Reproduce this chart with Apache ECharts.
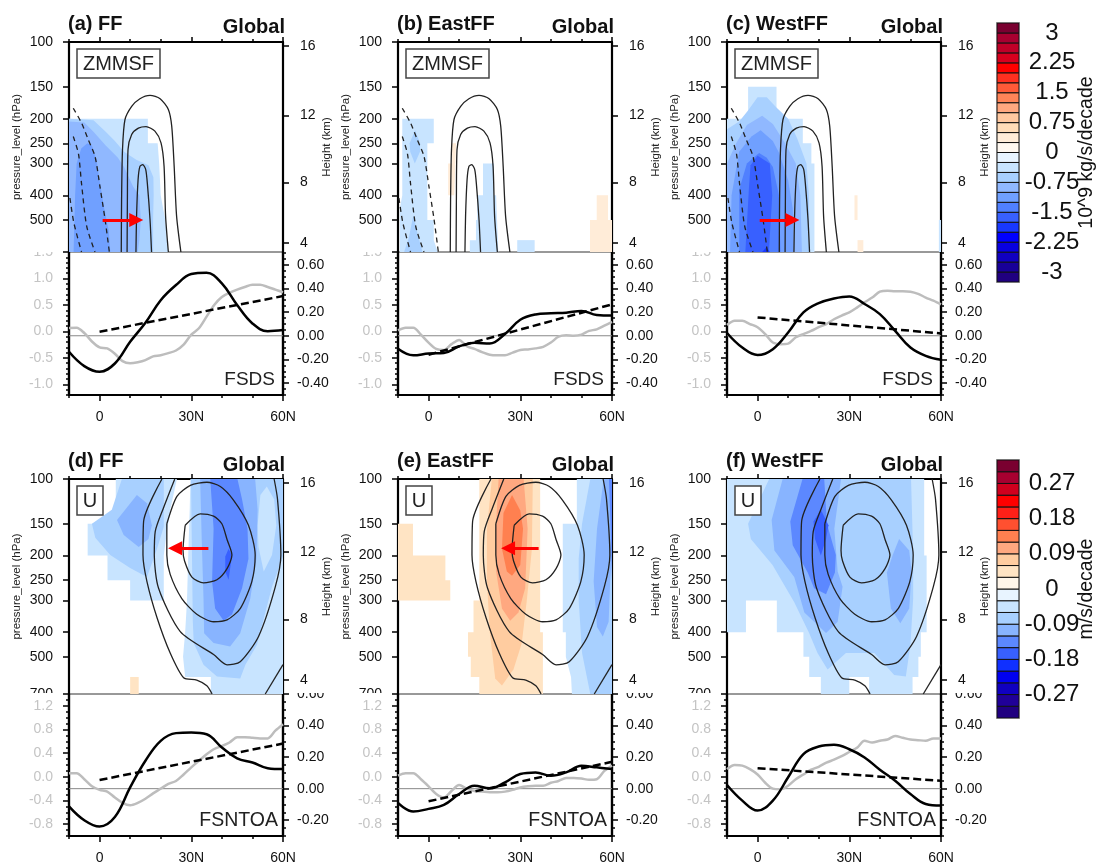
<!DOCTYPE html>
<html>
<head>
<meta charset="utf-8">
<title>ZMMSF and U trends</title>
<script src="https://cdn.jsdelivr.net/npm/echarts@6/dist/echarts.min.js"></script>
<style>
  html, body { margin: 0; padding: 0; background: #fff; }
  #chart { width: 1098px; height: 862px; }
</style>
</head>
<body>
<div id="chart"></div>
<script>
// tick labels
const pressureLevels = [100, 150, 200, 250, 300, 400, 500, 700]
const heightLevels = [16, 12, 8, 4]
const heightPressure = [103.7, 194, 356, 615]
const latMajor = [0, 30, 60]
const latMinor = [-10, 10, 20, 40, 50]

// colour bars, bottom to top
const msfColors = ['#200080', '#180098', '#1000c0', '#0800e0', '#0000ff', '#1838ff', '#3860ff', '#5080ff', '#70a0ff', '#90b8ff', '#a8d0ff', '#c8e4ff', '#e8f4ff',
  '#fff8f0', '#ffecd8', '#ffdcb8', '#ffc8a0', '#ffa880', '#ff8458', '#ff5a38', '#ff3020', '#ff0000', '#d8001e', '#c00028', '#a80030', '#7a0030']
const uColors = ['#200080', '#200098', '#1000c0', '#0000f0', '#1030ff', '#3860ff', '#5c88ff', '#88b4ff', '#a8d0ff', '#c8e4ff', '#e8f4ff',
  '#fff6ea', '#ffe4c4', '#ffcca0', '#ffa880', '#ff8050', '#ff5030', '#ff2018', '#ff0000', '#d0001e', '#a80030', '#7a0030']
const msfTicks = [-3, -2.25, -1.5, -0.75, 0, 0.75, 1.5, 2.25, 3]
const uTicks = [-0.27, -0.18, -0.09, 0, 0.09, 0.18, 0.27]

// climatology contours, [lat, hPa]
const msfPos1 = [[7.1,668],[7.2,416],[7.5,265],[8.3,202],[10.5,179],[13.2,167],[16.5,162],[19.8,167],[22.5,184],[23.6,214],[24.4,308],[25.2,484],[26.6,668]]
const msfPos2 = [[9,668],[9.1,416],[9.3,265],[10.5,231],[12.7,218],[15.2,215],[18.1,224],[20.1,249],[21.1,308],[21.6,484],[22.5,668]]
const msfPos3 = [[11.9,668],[12.1,484],[12.6,347],[13.2,308],[14.1,303],[15.1,317],[15.7,368],[16.5,498],[17,668]]
const msfNeg1 = [[-8.6,182],[-5.9,208],[-3.7,242],[-1.5,281],[0.1,368],[1.8,498],[3.2,668]]
const msfNeg2 = [[-8.6,235],[-6.9,275],[-5.9,360],[-4.2,530],[-1.5,668]]
const msfNeg3 = [[-9.7,410],[-8.4,514],[-5.9,668]]
const uJet1 = [[28,152],[32.9,137],[37.3,140],[40,150],[41.7,173],[43.3,199],[41.7,225],[38.4,249],[34,256],[30.2,243],[27.8,210],[27.3,191],[28,152]]
const uJet2 = [[22,150],[25.3,117],[29.7,106],[35.1,103],[39.5,107],[43.8,121],[48.7,152],[50.9,199],[49.8,253],[46,323],[41.7,358],[37.3,364],[31.8,340],[26.9,295],[23.1,237],[22,199],[22,150]]
const uJet3 = [[24.6,100],[20.9,130],[18.2,161],[17.9,199],[19.3,269],[26.4,398],[37.3,490],[41.7,538],[46,523],[52,416],[57.5,265],[59.3,199],[58.2,120],[57.1,100]]
const uJet4 = [[20.4,100],[14.4,147],[14.2,199],[15.5,253],[18.8,351],[23.1,483],[27.5,604],[31.8,617],[35.1,650],[36.8,700]]
const uCorner = [[54.2,700],[60,537]]

// filled trend regions, [bin value, [lat, hPa] ...], outer first
const fillA = [
  [-0.375, [[-10,200],[15.8,200],[15.8,250],[19,250],[19.5,300],[20,400],[21.5,500],[22,600],[22.5,668],[-10,668]]],
  [-0.625, [[-10,200],[-2,203],[2,225],[5,245],[8,270],[12,290],[16,305],[17.6,340],[17.7,400],[17.5,500],[17.5,668],[-10,668]]],
  [-0.875, [[-10,205],[-5,207],[-2,225],[2,255],[6,285],[8,310],[11,370],[13,400],[13.5,500],[13,600],[12.5,668],[-10,668]]],
  [-1.125, [[-8.5,668],[-8,400],[-7.5,300],[-6,262],[-4,250],[-2.5,255],[-1,290],[0,350],[1.5,450],[3,550],[3.5,668]]]
]
const fillB = [
  [-0.375, [[-8.6,200],[1.7,200],[1.7,250],[-0.4,250],[-0.4,500],[1.7,500],[1.7,600],[3,668],[-9.4,668],[-9.4,450],[-8.6,400]]],
  [-0.375, [[17.8,300],[21.4,300],[21.4,400],[22.1,400],[22.8,668],[13.5,668],[13.5,600],[15.5,600],[15.5,500],[15.9,500],[15.9,400],[17.8,400]]],
  [-0.375, [[29,600],[34.7,600],[34.7,668],[29,668]]],
  [-0.625, [[-4.4,222],[-2.8,250],[-2.8,270],[-4.5,300],[-6,270],[-6.2,250]]],
  [-0.625, [[-5,480],[-3.7,560],[-2,668],[-8,668],[-6.5,590]]],
  [0.375, [[7.7,250],[9,250],[8.4,400],[6.4,400],[6.4,300],[7.7,300]]],
  [0.375, [[55,400],[58.7,400],[58.7,500],[60,500],[60,668],[52.8,668],[52.8,500],[55,500]]]
]
const fillC = [
  [-0.375, [[-3.1,150],[6.2,150],[6.2,200],[14.8,200],[14.8,250],[17.6,250],[17.6,300],[18.6,300],[18.6,668],[-10,668],[-10,200],[-3.1,200]]],
  [-0.625, [[-10,220],[-6,205],[-3,185],[0,165],[3,165],[6,180],[10,200],[13,240],[16,300],[16.8,400],[17,668],[-10,668]]],
  [-0.875, [[-10,300],[-7,250],[-3.5,212],[1.5,195],[5,210],[9,250],[12.5,300],[14,400],[14.5,668],[-10,668]]],
  [-1.125, [[-9,668],[-8.5,400],[-6,270],[-2,235],[1,222],[5,245],[7,272],[10,350],[11.5,450],[11.8,668]]],
  [-1.375, [[-6,668],[-6,380],[-3.5,300],[0.5,273],[3,285],[5,310],[7,400],[7.5,668]]],
  [-1.625, [[0,280],[4,300],[4.8,400],[3.7,668],[-4,668],[-2.8,370],[-2.3,305]]],
  [-1.875, [[1.5,668],[2.9,640],[4,668]]],
  [0.375, [[31.7,400],[32.7,400],[32.7,500],[31.7,500]]],
  [0.375, [[32.7,600],[34.6,600],[34.6,668],[32.7,668]]],
  [-0.375, [[59.3,500],[60,500],[60,668],[59.3,668]]]
]
const fillD = [
  [-0.045, [[5.3,100],[25.3,100],[23.1,132],[21.5,179],[21,200],[21,300],[10,300],[10,250],[2.6,250],[2.6,200],[-3.9,200],[-3.9,150],[5.3,150]]],
  [-0.045, [[29.7,100],[60,100],[60,700],[36.4,700],[36.4,600],[28,600],[27.3,500],[28,400],[28.6,300],[29,200],[29.5,130]]],
  [-0.075, [[7.3,100],[4,132],[-2.5,150],[-1.4,170],[3.5,199],[10,224],[15.5,243],[18.8,188],[21,154],[21,100]]],
  [-0.105, [[5.7,145],[12.2,115.5],[15.5,124.6],[17.1,152],[16,172],[12.8,185],[7.9,166]]],
  [-0.075, [[29.9,100],[30.2,188],[30.5,362],[30.8,441],[34,537],[38.4,598],[46,608],[47.7,537],[51.5,448],[56.4,265],[60,202],[60,100]]],
  [-0.045, [[54.7,107],[52.6,115.5],[51.7,152],[52,185],[53.7,231],[56.4,199],[57.8,152],[57.1,120]]],
  [-0.105, [[32.9,100],[33.5,188],[34,295],[34.2,404],[37.3,441],[42.7,455],[46,404],[49.3,295],[51.3,206],[51.7,132],[50.9,100]]],
  [-0.135, [[36.2,100],[37.3,157],[36.8,253],[37.8,323],[40.6,361],[43.3,341],[46.6,269],[48.7,206],[48.4,157],[46.6,120],[45.1,100]]],
  [-0.165, [[42.2,188],[43.3,200],[42.2,249],[41.1,231],[41.1,202]]],
  [0.045, [[10,600],[12.8,600],[12.8,700],[10,700]]]
]
const fillE = [
  [0.045, [[-10,150],[-5.1,150],[-5.1,200],[5.5,200],[5.5,250],[7.1,250],[7.1,300],[-10,300]]],
  [0.045, [[16.6,100],[36.5,100],[36.5,400],[37.4,400],[37.4,700],[16.6,700],[16.6,600],[13.8,600],[13.8,500],[12.9,500],[12.9,400],[14.7,400],[14.7,300],[16.6,300]]],
  [0.075, [[20.7,100],[19.1,157],[19.1,253],[20,398],[21.8,608],[24,648],[27.8,559],[30.5,441],[32.2,295],[33.8,188],[34.1,100]]],
  [0.105, [[22.9,100],[22,157],[22.1,231],[24,323],[26.7,361],[29.4,335],[31.6,269],[32.4,157],[31.1,100]]],
  [0.135, [[27.3,115.5],[24.5,136],[24,188],[25.6,231],[27.3,240],[30,218],[30.9,157],[30,133]]],
  [-0.045, [[48.5,100],[60,100],[60,700],[46.9,700],[46.6,600],[44.9,500],[44.9,400],[43.9,400],[43.9,150],[48.5,150]]],
  [-0.075, [[52.9,100],[50.2,150],[49.1,206],[49.1,300],[50.2,483],[52.9,700],[60,700],[60,100]]],
  [-0.105, [[57.3,100],[55.1,157],[54,253],[55.1,382],[57,416],[58.9,364],[59.4,253],[60,200],[60,100]]],
  [-0.135, [[59,100],[60,100],[60,250],[59.6,160]]]
]
const fillF = [
  [-0.045, [[-10,100],[54.5,100],[54.5,200],[55.3,200],[55.3,400],[53.4,400],[53.4,500],[52.6,500],[52.6,600],[50.7,600],[50.7,700],[36.5,700],[36.5,600],[30,600],[30,700],[20.7,700],[20.7,600],[16.9,600],[16.9,500],[15,500],[15,400],[6.3,400],[6.3,300],[-3.8,300],[-3.8,400],[-10,400]]],
  [-0.075, [[3.8,100],[-3.1,150],[-2.2,172],[4.9,218],[12,305],[16.9,404],[19.6,483],[22.9,561],[28.9,483],[38.2,483],[44.7,589],[48.5,598],[50,448],[50.9,295],[50.9,199],[50.2,100]]],
  [-0.105, [[8.2,100],[4.6,145],[5.5,191],[12,243],[15.3,335],[22.4,403],[26.2,364],[27.8,265],[26.2,231],[25.1,157],[27.3,100]]],
  [-0.105, [[46.3,172],[44.2,199],[42.3,233],[43.6,323],[46.7,369],[49.6,323],[50.4,233],[49.6,191]]],
  [-0.135, [[14.7,100],[10.7,147],[11.5,182],[16.4,233],[18.5,269],[22.4,284],[25.3,233],[25.6,199],[22.7,150],[21.8,100]]],
  [-0.165, [[20.7,132],[18.3,147],[18.8,172],[20.7,200],[22.4,172],[23.2,152]]]
]

// red arrows, [lat, hPa] tail then centre of the head
const arrowA = [[1,500],[12,500]]
const arrowC = [[0.7,500],[11.4,500]]
const arrowD = [[35.6,187],[24.7,187]]
const arrowE = [[36,187],[26,187]]

// line panels
const latBlack = [-10,-5,0,5,10,15,20,25,30,35,40,45,50,55,60]
const latGray = [-10,-7.5,-5,-2.5,0,2.5,5,7.5,10,12.5,15,17.5,20,22.5,25,27.5,30,32.5,35,37.5,40,42.5,45,47.5,50,52.5,55,57.5,60]
const latTrend = [0, 60]

const blackA = [-0.135,-0.256,-0.304,-0.234,-0.051,0.11,0.3,0.428,0.521,0.532,0.442,0.259,0.104,0.039,0.048]
const grayA = [0.063,0.069,-0.03,-0.19,-0.3,-0.32,-0.42,-0.56,-0.6,-0.58,-0.54,-0.47,-0.45,-0.41,-0.36,-0.25,-0.06,0.06,0.28,0.5,0.65,0.73,0.79,0.84,0.88,0.88,0.84,0.79,0.74]
const trendA = [0.034, 0.335]
const blackB = [-0.11,-0.165,-0.15,-0.145,-0.09,-0.06,-0.065,0.015,0.135,0.18,0.19,0.195,0.21,0.175,0.17]
const grayB = [0.02,0.07,0.07,-0.06,-0.21,-0.33,-0.35,-0.24,-0.16,-0.28,-0.33,-0.39,-0.44,-0.45,-0.45,-0.4,-0.35,-0.34,-0.32,-0.29,-0.21,-0.1,-0.07,-0.08,-0.06,0.01,0.04,0.11,0.18]
const trendB = [-0.16, 0.265]
const blackC = [0.023,-0.1,-0.163,-0.113,0.028,0.197,0.276,0.315,0.332,0.268,0.183,0.042,-0.099,-0.169,-0.203]
const grayC = [0.12,0.2,0.2,0.14,0.08,-0.05,-0.21,-0.24,-0.23,-0.11,-0.05,0.01,0.08,0.14,0.23,0.3,0.36,0.45,0.55,0.64,0.75,0.77,0.76,0.76,0.75,0.71,0.64,0.58,0.51]
const trendC = [0.155, 0.02]
const blackD = [-0.112,-0.2,-0.24,-0.18,0.008,0.177,0.303,0.352,0.356,0.345,0.261,0.192,0.166,0.13,0.124]
const grayD = [0.06,0.06,-0.04,-0.16,-0.22,-0.25,-0.35,-0.44,-0.48,-0.44,-0.37,-0.28,-0.2,-0.12,-0.07,0.04,0.16,0.27,0.38,0.47,0.52,0.58,0.67,0.67,0.66,0.65,0.65,0.78,0.89]
const trendD = [0.055, 0.286]
const blackE = [-0.09,-0.145,-0.128,-0.103,-0.034,0.019,0.002,0.04,0.093,0.103,0.082,0.103,0.145,0.135,0.124]
const grayE = [0.02,0.06,0.06,-0.04,-0.16,-0.29,-0.35,-0.24,-0.14,-0.2,-0.24,-0.25,-0.26,-0.26,-0.25,-0.22,-0.18,-0.16,-0.15,-0.15,-0.1,-0.07,-0.02,-0.02,-0.03,-0.05,-0.04,0.1,0.19]
const trendE = [-0.08, 0.17]
const blackF = [0.023,-0.076,-0.139,-0.076,0.072,0.219,0.267,0.278,0.25,0.198,0.12,0.05,-0.034,-0.097,-0.107]
const grayF = [0.13,0.2,0.19,0.13,0.04,-0.1,-0.2,-0.21,-0.15,-0.04,0.04,0.12,0.17,0.24,0.29,0.35,0.42,0.49,0.61,0.58,0.61,0.63,0.69,0.66,0.63,0.62,0.61,0.65,0.65]
const trendF = [0.13, 0.05]

const FONT = '"Liberation Sans", Arial, sans-serif'
const PANEL_W = 214
const panelLefts = [69, 398, 727]

const rows = [
  {
    top: 42, mid: 252, bottom: 395, pMax: 668, box: 'ZMMSF', boxW: 83, name: 'FSDS', nameSize: 19,
    nameY: 380, nameRight: 206, titleY: 24, globalY: 27, boxY: 49,
    leftMin: -1.2, leftMax: 1.5, leftTicks: [-1, -0.5, 0, 0.5, 1, 1.5],
    rightMin: -0.5, rightMax: 0.707, rightTicks: [-0.4, -0.2, 0, 0.2, 0.4, 0.6]
  },
  {
    top: 479, mid: 694, bottom: 836, pMax: 700, box: 'U', boxW: 26, name: 'FSNTOA', nameSize: 19.5,
    nameY: 821, nameRight: 209, titleY: 461, globalY: 465, boxY: 486,
    leftMin: -1, leftMax: 1.4, leftTicks: [-0.8, -0.4, 0, 0.4, 0.8, 1.2],
    rightMin: -0.3, rightMax: 0.6, rightTicks: [-0.2, 0, 0.2, 0.4, 0.6]
  }
]

const msfLines = [msfPos1, msfPos2, msfPos3]
const msfDashed = [msfNeg1, msfNeg2, msfNeg3]
const uLines = [uJet1, uJet2, uJet3, uJet4, uCorner]

const panels = [
  { row: 0, col: 0, title: '(a) FF', fill: fillA, arrow: arrowA, black: blackA, gray: grayA, trend: trendA },
  { row: 0, col: 1, title: '(b) EastFF', fill: fillB, arrow: null, black: blackB, gray: grayB, trend: trendB },
  { row: 0, col: 2, title: '(c) WestFF', fill: fillC, arrow: arrowC, black: blackC, gray: grayC, trend: trendC },
  { row: 1, col: 0, title: '(d) FF', fill: fillD, arrow: arrowD, black: blackD, gray: grayD, trend: trendD },
  { row: 1, col: 1, title: '(e) EastFF', fill: fillE, arrow: arrowE, black: blackE, gray: grayE, trend: trendE },
  { row: 1, col: 2, title: '(f) WestFF', fill: fillF, arrow: null, black: blackF, gray: grayF, trend: trendF }
]

function steps(from, to, step) {
  const out = []
  const n = Math.round((to - from) / step)
  for (let i = 0; i <= n; i++) out.push(+(from + i * step).toFixed(3))
  return out
}

function colorOf(value, row) {
  const colors = row === 0 ? msfColors : uColors
  const step = row === 0 ? 0.25 : 0.03
  return colors[Math.floor(value / step) + colors.length / 2]
}

const grid = []
const xAxis = []
const yAxis = []
const series = []
const graphic = []

function addX(gridIndex, position, ticks, len, opts) {
  xAxis.push(Object.assign({
    type: 'value', gridIndex, position, min: -10, max: 60,
    axisLine: { show: true, onZero: false, lineStyle: { color: '#000', width: 2.2 } },
    axisTick: { show: true, customValues: ticks, length: len, lineStyle: { color: '#000', width: 1.5 } },
    axisLabel: { show: false },
    splitLine: { show: false }
  }, opts || {}))
  return xAxis.length - 1
}

function addY(gridIndex, position, min, max, ticks, len, opts) {
  yAxis.push(Object.assign({
    type: 'value', gridIndex, position, min, max,
    axisLine: { show: true, onZero: false, lineStyle: { color: '#000', width: 2.2 } },
    axisTick: { show: true, customValues: ticks, length: len, lineStyle: { color: '#000', width: 1.5 } },
    axisLabel: { show: false },
    splitLine: { show: false }
  }, opts || {}))
  return yAxis.length - 1
}

function tickLabel(ticks, margin, color, formatter) {
  return {
    show: true, customValues: ticks, margin, color, formatter,
    fontFamily: FONT, fontSize: 14
  }
}

function toLn(points) {
  return points.map(p => [p[0], Math.log(p[1])])
}

panels.forEach(panel => {
  const row = rows[panel.row]
  const left = panelLefts[panel.col]

  // upper plot
  const gTop = grid.length
  grid.push({ left, top: row.top, width: PANEL_W, height: row.mid - row.top, outerBoundsMode: 'none' })
  const xTop = addX(gTop, 'top', latMajor, 5)
  addX(gTop, 'top', latMinor, 3)
  const lnMin = Math.log(100)
  const lnMax = Math.log(row.pMax)
  const yP = addY(gTop, 'left', lnMin, lnMax, pressureLevels.map(Math.log), 6, {
    inverse: true,
    name: 'pressure_level (hPa)', nameLocation: 'middle', nameGap: 46, nameRotate: 90,
    nameTextStyle: { fontFamily: FONT, fontSize: 11.5, color: '#222' },
    axisLabel: tickLabel(pressureLevels.map(Math.log), 16, '#111', v => String(Math.round(Math.exp(v))))
  })
  addY(gTop, 'right', lnMin, lnMax, heightPressure.map(Math.log), 6, {
    inverse: true,
    name: 'Height (km)', nameLocation: 'middle', nameGap: 38, nameRotate: 90,
    nameTextStyle: { fontFamily: FONT, fontSize: 11.5, color: '#222' },
    axisLabel: tickLabel(heightPressure.map(Math.log), 17, '#111', v => {
      const i = heightPressure.findIndex(p => Math.abs(Math.log(p) - v) < 1e-6)
      return String(heightLevels[i])
    })
  })

  series.push({
    type: 'custom', xAxisIndex: xTop, yAxisIndex: yP, z: 1, clip: true, silent: true,
    data: panel.fill.map(f => [f[0]]),
    renderItem(params, api) {
      const f = panel.fill[params.dataIndex]
      return {
        type: 'polygon',
        shape: { points: toLn(f[1]).map(p => api.coord(p)) },
        style: { fill: colorOf(f[0], panel.row) }
      }
    }
  })

  const solid = panel.row === 0 ? msfLines : uLines
  solid.forEach(line => {
    series.push({
      type: 'line', xAxisIndex: xTop, yAxisIndex: yP, z: 3, data: toLn(line),
      showSymbol: false, smooth: 0.25, silent: true,
      lineStyle: { color: '#222', width: 1.3 }
    })
  })
  if (panel.row === 0) {
    msfDashed.forEach(line => {
      series.push({
        type: 'line', xAxisIndex: xTop, yAxisIndex: yP, z: 3, data: toLn(line),
        showSymbol: false, smooth: 0.25, silent: true,
        lineStyle: { color: '#222', width: 1.3, type: [5, 4] }
      })
    })
  }
  if (panel.arrow) {
    const a = toLn(panel.arrow)
    series.push({
      type: 'line', xAxisIndex: xTop, yAxisIndex: yP, z: 4, data: [], silent: true,
      markLine: {
        silent: true, animation: false, symbol: ['none', 'triangle'], symbolSize: 14,
        label: { show: false },
        lineStyle: { color: '#f00', width: 3, type: 'solid' },
        data: [[{ coord: a[0] }, { coord: a[1] }]]
      }
    })
  }

  // lower plot
  const gLow = grid.length
  grid.push({
    left, top: row.mid, width: PANEL_W, height: row.bottom - row.mid, outerBoundsMode: 'none',
    show: true, borderColor: '#333', borderWidth: 1
  })
  const xLow = addX(gLow, 'bottom', latMajor, 6, {
    axisLabel: {
      show: true, customValues: latMajor, margin: 15, color: '#111', fontFamily: FONT, fontSize: 14,
      formatter: v => v === 0 ? '0' : v + 'N'
    }
  })
  addX(gLow, 'bottom', latMinor, 3)
  const yGray = addY(gLow, 'left', row.leftMin, row.leftMax, row.leftTicks, 6, {
    axisLabel: tickLabel(row.leftTicks, 16, '#c4c4c4', v => v.toFixed(1))
  })
  addY(gLow, 'left', row.leftMin, row.leftMax, steps(row.leftMin, row.leftMax, 0.1), 3)
  const yBlack = addY(gLow, 'right', row.rightMin, row.rightMax, row.rightTicks, 6, {
    axisLabel: tickLabel(row.rightTicks, 14, '#111', v => v.toFixed(2))
  })
  addY(gLow, 'right', row.rightMin, row.rightMax, steps(row.rightMin, 0.7, 0.05).filter(v => v <= row.rightMax), 3)

  series.push({
    type: 'line', xAxisIndex: xLow, yAxisIndex: yBlack, z: 2, data: [[-10, 0], [60, 0]],
    showSymbol: false, silent: true, lineStyle: { color: '#888', width: 1 }
  })
  series.push({
    type: 'line', xAxisIndex: xLow, yAxisIndex: yGray, z: 3,
    data: panel.gray.map((v, i) => [latGray[i], v]),
    showSymbol: false, smooth: 0.3, silent: true, lineStyle: { color: '#bdbdbd', width: 2.5 }
  })
  series.push({
    type: 'line', xAxisIndex: xLow, yAxisIndex: yBlack, z: 4,
    data: panel.black.map((v, i) => [latBlack[i], v]),
    showSymbol: false, smooth: 0.4, silent: true, lineStyle: { color: '#000', width: 2.5 }
  })
  series.push({
    type: 'line', xAxisIndex: xLow, yAxisIndex: yBlack, z: 4,
    data: panel.trend.map((v, i) => [latTrend[i], v]),
    showSymbol: false, silent: true, lineStyle: { color: '#000', width: 2.5, type: [8, 4] }
  })

  // titles and boxes
  graphic.push({
    type: 'text', z: 110, x: left - 1, y: row.titleY,
    style: { text: panel.title, font: 'bold 20px ' + FONT, fill: '#111', verticalAlign: 'middle' }
  })
  graphic.push({
    type: 'text', z: 110, x: left + PANEL_W + 2, y: row.globalY,
    style: { text: 'Global', font: 'bold 20px ' + FONT, fill: '#111', align: 'right', verticalAlign: 'middle' }
  })
  graphic.push({
    type: 'rect', z: 105, shape: { x: left + 8, y: row.boxY, width: row.boxW, height: 29 },
    style: { fill: '#fff', stroke: '#444', lineWidth: 1.5 }
  })
  graphic.push({
    type: 'text', z: 110, x: left + 8 + row.boxW / 2, y: row.boxY + 15,
    style: { text: row.box, font: '20px ' + FONT, fill: '#222', align: 'center', verticalAlign: 'middle' }
  })
  graphic.push({
    type: 'text', z: 110, x: left + row.nameRight, y: row.nameY,
    style: { text: row.name, font: row.nameSize + 'px ' + FONT, fill: '#222', align: 'right', verticalAlign: 'middle' }
  })

  // tick labels cut by the neighbouring plot
  if (panel.row === 0) {
    graphic.push({ type: 'rect', z: 100, shape: { x: left - 38, y: 240, width: 31, height: 12 }, style: { fill: '#fff' } })
  } else {
    graphic.push({ type: 'rect', z: 100, shape: { x: left - 38, y: 693, width: 31, height: 7 }, style: { fill: '#fff' } })
    graphic.push({ type: 'rect', z: 100, shape: { x: left + PANEL_W + 8, y: 686, width: 34, height: 7 }, style: { fill: '#fff' } })
  }
})

// colour bars
function addColorBar(colors, step, ticks, top, height, name) {
  const g = grid.length
  grid.push({ left: 997, top, width: 22, height, outerBoundsMode: 'none' })
  const half = step * colors.length / 2
  const xi = xAxis.length
  xAxis.push({ type: 'value', gridIndex: g, min: 0, max: 1, show: false })
  const yi = yAxis.length
  yAxis.push({
    type: 'value', gridIndex: g, position: 'right', min: -half, max: half,
    axisLine: { show: false }, axisTick: { show: false }, splitLine: { show: false },
    name, nameLocation: 'middle', nameGap: 58, nameRotate: 90, nameMoveOverlap: false,
    nameTextStyle: { fontFamily: FONT, fontSize: 19.5, color: '#111' },
    axisLabel: {
      customValues: ticks, margin: 33, align: 'center', color: '#111',
      fontFamily: FONT, fontSize: 24, formatter: v => String(v)
    }
  })
  series.push({
    type: 'custom', xAxisIndex: xi, yAxisIndex: yi, silent: true, z: 2,
    data: colors.map((c, i) => [-half + i * step]),
    renderItem(params, api) {
      const i = params.dataIndex
      const a = api.coord([0, -half + i * step])
      const b = api.coord([1, -half + (i + 1) * step])
      return {
        type: 'rect',
        shape: { x: a[0], y: b[1], width: b[0] - a[0], height: a[1] - b[1] },
        style: { fill: colors[i], stroke: '#111', lineWidth: 1 }
      }
    }
  })
  graphic.push({
    type: 'rect', z: 90, shape: { x: 996.5, y: top - 0.5, width: 23, height: height + 1 },
    style: { fill: 'none', stroke: '#777', lineWidth: 1 }
  })
}

addColorBar(msfColors, 0.25, msfTicks, 23, 259, '10^9 kg/s/decade')
addColorBar(uColors, 0.03, uTicks, 460, 258, 'm/s/decade')

const chart = echarts.init(document.getElementById('chart'), null, { renderer: 'canvas' })
chart.setOption({
  animation: false,
  backgroundColor: '#fff',
  textStyle: { fontFamily: FONT },
  grid, xAxis, yAxis, series, graphic
})
</script>
</body>
</html>
